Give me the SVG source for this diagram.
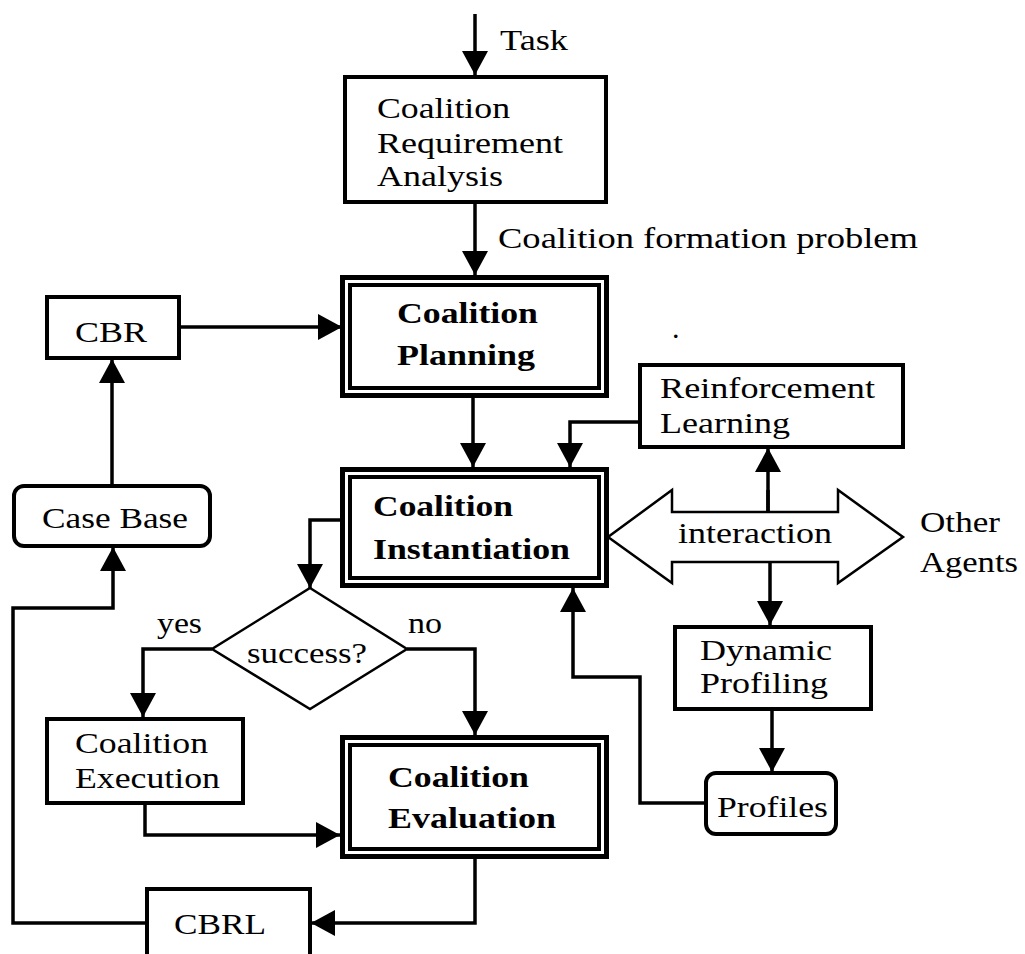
<svg xmlns="http://www.w3.org/2000/svg" width="1025" height="954" viewBox="0 0 1025 954">
  <style>
    .box { fill: #fff; stroke: #000; stroke-width: 4; }
    .outer { fill: #fff; stroke: #000; stroke-width: 5; }
    .inner { fill: none; stroke: #000; stroke-width: 4; }
    .line { fill: none; stroke: #000; stroke-width: 3.5; }
    .t { font-family: "Liberation Serif", "Times New Roman", serif; font-size: 30px; fill: #000; }
    .b { font-family: "Liberation Serif", "Times New Roman", serif; font-size: 30px; font-weight: bold; fill: #000; }
  </style>
  <defs>
    <marker id="arrow" viewBox="0 0 24 26" refX="24" refY="13" markerWidth="24" markerHeight="26" markerUnits="userSpaceOnUse" orient="auto">
      <path d="M0,0 L24,13 L0,26 Z" fill="#000"/>
    </marker>
  </defs>
  <rect width="1025" height="954" fill="#fff"/>

  <g id="connectors">
    <path class="line" d="M475,14 V75" marker-end="url(#arrow)"/>
    <path class="line" d="M475,203 V275" marker-end="url(#arrow)"/>
    <path class="line" d="M180,327 H342" marker-end="url(#arrow)"/>
    <path class="line" d="M112,485 V359" marker-end="url(#arrow)"/>
    <path class="line" d="M473,398 V467" marker-end="url(#arrow)"/>
    <path class="line" d="M638,422 H570 V467" marker-end="url(#arrow)"/>
    <path class="line" d="M768,512 V448" marker-end="url(#arrow)"/>
    <path class="line" d="M770,562 V625" marker-end="url(#arrow)"/>
    <path class="line" d="M772,710 V772" marker-end="url(#arrow)"/>
    <path class="line" d="M705,803 H640 V677 H573 V588" marker-end="url(#arrow)"/>
    <path class="line" d="M340,520 H310 V588" marker-end="url(#arrow)"/>
    <path class="line" d="M212,649 H143 V717" marker-end="url(#arrow)"/>
    <path class="line" d="M407,649 H475 V735" marker-end="url(#arrow)"/>
    <path class="line" d="M145,804 V835 H340" marker-end="url(#arrow)"/>
    <path class="line" d="M475,859 V923 H311" marker-end="url(#arrow)"/>
    <path class="line" d="M145,923 H13 V608 H113 V547" marker-end="url(#arrow)"/>
  </g>

  <text class="t" x="500" y="50" textLength="68" lengthAdjust="spacingAndGlyphs">Task</text>
  <text class="t" x="498" y="248" textLength="420" lengthAdjust="spacingAndGlyphs">Coalition formation problem</text>
  <text class="t" x="672" y="338" font-size="20">.</text>

  <g id="requirement-analysis">
    <rect class="box" x="345" y="77" width="261" height="125"/>
    <text class="t" x="377" y="118" textLength="133" lengthAdjust="spacingAndGlyphs">Coalition</text>
    <text class="t" x="377" y="153" textLength="186" lengthAdjust="spacingAndGlyphs">Requirement</text>
    <text class="t" x="377" y="186" textLength="126" lengthAdjust="spacingAndGlyphs">Analysis</text>
  </g>

  <g id="planning">
    <rect class="outer" x="342.5" y="277.5" width="264" height="118"/>
    <rect class="inner" x="350" y="285" width="249" height="103"/>
    <text class="b" x="397" y="323" textLength="141" lengthAdjust="spacingAndGlyphs">Coalition</text>
    <text class="b" x="397" y="365" textLength="138" lengthAdjust="spacingAndGlyphs">Planning</text>
  </g>

  <g id="cbr">
    <rect class="box" x="47" y="297" width="132" height="61"/>
    <text class="t" x="75" y="342" textLength="72" lengthAdjust="spacingAndGlyphs">CBR</text>
  </g>

  <g id="case-base">
    <rect class="box" x="14" y="486" width="196" height="60" rx="10"/>
    <text class="t" x="42" y="528" textLength="146" lengthAdjust="spacingAndGlyphs">Case Base</text>
  </g>

  <g id="instantiation">
    <rect class="outer" x="342.5" y="469.5" width="264" height="116"/>
    <rect class="inner" x="350" y="477" width="249" height="101"/>
    <text class="b" x="373" y="516" textLength="140" lengthAdjust="spacingAndGlyphs">Coalition</text>
    <text class="b" x="373" y="559" textLength="197" lengthAdjust="spacingAndGlyphs">Instantiation</text>
  </g>

  <g id="reinforcement-learning">
    <rect class="box" x="640" y="365" width="263" height="82"/>
    <text class="t" x="660" y="398" textLength="215" lengthAdjust="spacingAndGlyphs">Reinforcement</text>
    <text class="t" x="660" y="433" textLength="130" lengthAdjust="spacingAndGlyphs">Learning</text>
  </g>

  <g id="interaction">
    <polygon points="608,537 672,490 672,512 838,512 838,490 903,537 838,583 838,562 672,562 672,583" fill="#fff" stroke="#000" stroke-width="2.5"/>
    <path class="line" d="M768,512 V490"/>
    <text class="t" x="678" y="543" textLength="154" lengthAdjust="spacingAndGlyphs">interaction</text>
  </g>

  <g id="other-agents">
    <text class="t" x="920" y="532" textLength="80" lengthAdjust="spacingAndGlyphs">Other</text>
    <text class="t" x="920" y="572" textLength="98" lengthAdjust="spacingAndGlyphs">Agents</text>
  </g>

  <g id="dynamic-profiling">
    <rect class="box" x="675" y="627" width="196" height="82"/>
    <text class="t" x="700" y="660" textLength="132" lengthAdjust="spacingAndGlyphs">Dynamic</text>
    <text class="t" x="700" y="693" textLength="128" lengthAdjust="spacingAndGlyphs">Profiling</text>
  </g>

  <g id="profiles">
    <rect class="box" x="706" y="773" width="130" height="61" rx="10"/>
    <text class="t" x="717" y="817" textLength="111" lengthAdjust="spacingAndGlyphs">Profiles</text>
  </g>

  <g id="success">
    <polygon points="310,588 407,649 310,709 212,649" fill="#fff" stroke="#000" stroke-width="2.5"/>
    <text class="t" x="247" y="663" textLength="120" lengthAdjust="spacingAndGlyphs">success?</text>
    <text class="t" x="157" y="633" textLength="45" lengthAdjust="spacingAndGlyphs">yes</text>
    <text class="t" x="408" y="633" textLength="34" lengthAdjust="spacingAndGlyphs">no</text>
  </g>

  <g id="execution">
    <rect class="box" x="47" y="719" width="196" height="84"/>
    <text class="t" x="75" y="753" textLength="133" lengthAdjust="spacingAndGlyphs">Coalition</text>
    <text class="t" x="75" y="788" textLength="145" lengthAdjust="spacingAndGlyphs">Execution</text>
  </g>

  <g id="evaluation">
    <rect class="outer" x="342.5" y="737.5" width="264" height="119"/>
    <rect class="inner" x="350" y="745" width="249" height="104"/>
    <text class="b" x="388" y="787" textLength="141" lengthAdjust="spacingAndGlyphs">Coalition</text>
    <text class="b" x="388" y="828" textLength="168" lengthAdjust="spacingAndGlyphs">Evaluation</text>
  </g>

  <g id="cbrl">
    <rect class="box" x="147" y="889" width="163" height="75"/>
    <text class="t" x="174" y="934" textLength="92" lengthAdjust="spacingAndGlyphs">CBRL</text>
  </g>
</svg>
